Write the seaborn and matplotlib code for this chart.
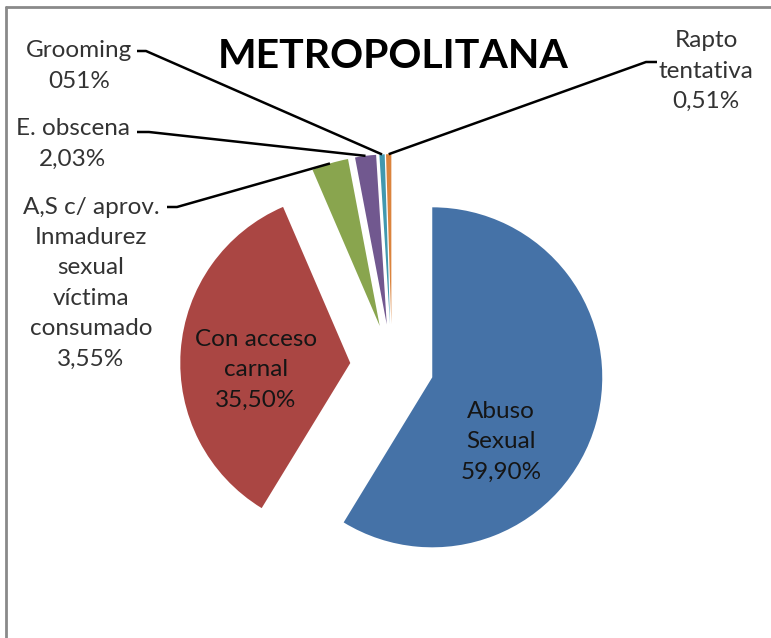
import matplotlib
matplotlib.use("Agg")
import matplotlib.pyplot as plt
import seaborn as sns
from matplotlib.lines import Line2D
import numpy as np

# ---- data ----
categories = ["Abuso\nSexual", "Con acceso\ncarnal",
              "A,S c/ aprov.\nInmadurez\nsexual\nvíctima\nconsumado",
              "E. obscena", "Grooming", "Rapto\ntentativa"]
values = [59.90, 35.50, 3.55, 2.03, 0.51, 0.51]
value_labels = ["59,90%", "35,50%", "3,55%", "2,03%", "051%", "0,51%"]
colors_hex = ["#4572A7", "#AA4643", "#89A54E", "#71588F", "#4198AF", "#DB843D"]
title = "METROPOLITANA"

sns.set_theme(style="white")
plt.rcParams['font.family'] = ['Lato', 'DejaVu Sans']

W, H = 771, 638
fig = plt.figure(figsize=(W / 100, H / 100), dpi=100)
ax = fig.add_axes([0, 0, 1, 1])
R_PX = 170.0
CX, CY = 392.0, 366.0


def px(x, y):
    return ((x - CX) / R_PX, (CY - y) / R_PX)


palette = sns.color_palette(colors_hex)
wedges, _ = ax.pie(values, colors=palette, startangle=90, counterclock=False,
                   explode=[0.246] * len(values), radius=1,
                   wedgeprops=dict(linewidth=0))
ax.set_xlim(-CX / R_PX, (W - CX) / R_PX)
ax.set_ylim(-(H - CY) / R_PX, CY / R_PX)
ax.set_aspect('auto')
ax.axis('off')

label_fs = 17.5
out_color = "#333333"

# label layout: (center px x, center px y, inside?)
layout = {
    0: (501, 442, True),
    1: (256, 370, True),
    2: (91, 283, False),
    3: (73, 144, False),
    4: (79, 66, False),
    5: (706, 71, False),
}
for i, (x, y, inside) in layout.items():
    tx, ty = px(x, y)
    ax.text(tx, ty, categories[i] + "\n" + value_labels[i], ha='center', va='center',
            fontsize=label_fs, linespacing=1.55,
            color="#151515" if inside else out_color)

# leader lines: (start px, elbow px) -> wedge outer midpoint
leaders = {
    2: ((167, 207), (177, 207)),
    3: ((137, 132), (149, 132)),
    4: ((137, 51), (146, 51)),
    5: ((657, 62), (646, 62)),
}
for i, (p0, p1) in leaders.items():
    w = wedges[i]
    th = np.deg2rad((w.theta1 + w.theta2) / 2)
    ex = w.center[0] + w.r * np.cos(th)
    ey = w.center[1] + w.r * np.sin(th)
    a = px(*p0)
    b = px(*p1)
    ax.add_line(Line2D([a[0], b[0], ex], [a[1], b[1], ey], color="black", lw=1.8,
                       solid_capstyle='butt'))

tx, ty = px(393, 57)
ax.text(tx, ty, title, ha='center', va='center', fontsize=29.5, fontweight='bold',
        color='black')

# chart frame
fig.add_artist(Line2D([6 / W, 1], [1 - 7 / H, 1 - 7 / H], transform=fig.transFigure,
                      color='#8a8a8a', lw=2))
fig.add_artist(Line2D([6 / W, 6 / W], [0, 1 - 7 / H], transform=fig.transFigure,
                      color='#8a8a8a', lw=2))

fig.savefig("out.png", dpi=100)
